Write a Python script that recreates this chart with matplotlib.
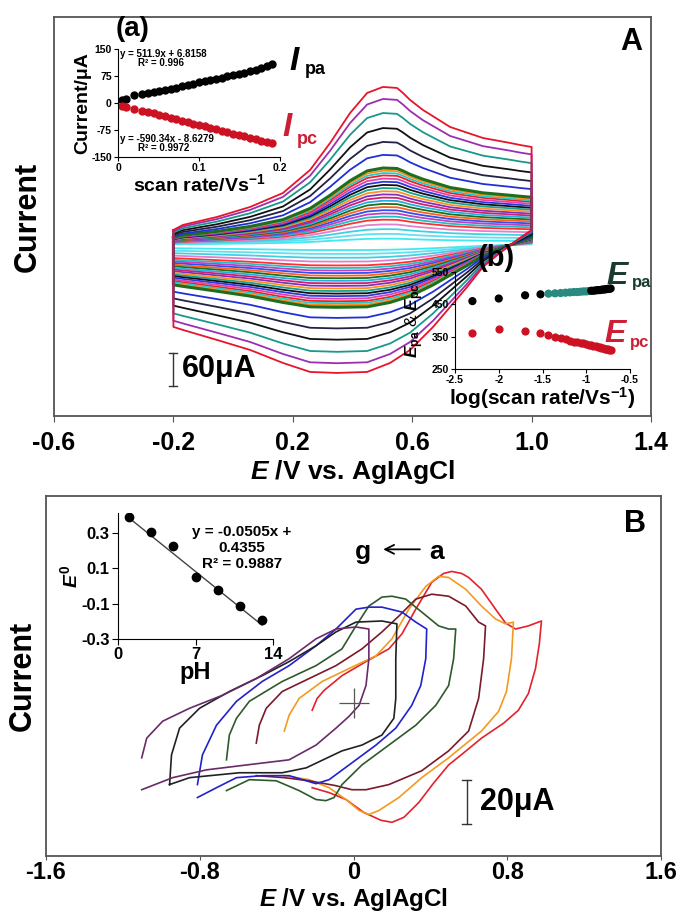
import numpy as np
import matplotlib
matplotlib.use('Agg')
import matplotlib.pyplot as plt

plt.rcParams['font.family'] = ['Liberation Sans', 'DejaVu Sans']
plt.rcParams['font.weight'] = 'bold'
plt.rcParams['mathtext.fontset'] = 'custom'
plt.rcParams['mathtext.rm'] = 'Liberation Sans:bold'
plt.rcParams['mathtext.it'] = 'Liberation Sans:italic:bold'
plt.rcParams['mathtext.bf'] = 'Liberation Sans:bold'
plt.rcParams['axes.unicode_minus'] = False

# ---------------- Panel A data ----------------
# outermost CV (fastest scan) anodic (forward) branch: potential (V) and current (uA)
cvA_fwd_E = [-0.2, -0.168, -0.054, 0.057, 0.167, 0.258, 0.325, 0.392, 0.449, 0.502,
             0.549, 0.569, 0.593, 0.636, 0.727, 0.837, 0.928, 0.961, 1.0]
cvA_fwd_I = [27.3, 36.4, 50.9, 69.1, 94.5, 136.4, 185.5, 240.0, 276.4, 287.3,
             285.5, 276.4, 263.6, 245.5, 214.5, 194.5, 185.5, 181.8, 178.2]
# cathodic (reverse) branch
cvA_rev_E = [1.0, 0.951, 0.894, 0.837, 0.784, 0.727, 0.670, 0.593, 0.526, 0.449,
             0.348, 0.258, 0.167, 0.057, -0.054, -0.168, -0.2]
cvA_rev_I = [27.3, 9.1, -14.5, -40.0, -76.4, -112.7, -149.0, -190.9, -214.5, -230.9,
             -232.7, -230.9, -214.5, -190.9, -172.7, -154.5, -149.0]
# relative size of each CV (outer -> inner)
cvA_scale = [1.0, 0.924, 0.835, 0.74, 0.652, 0.57, 0.487, 0.47, 0.455, 0.44, 0.42,
             0.40, 0.38, 0.36, 0.34, 0.32, 0.30, 0.28, 0.26, 0.24, 0.22, 0.20, 0.18,
             0.16, 0.13, 0.10, 0.07, 0.04]
cvA_colors = ['#e8142c', '#9c2fb0', '#17998a', '#111111', '#222244', '#2030d8',
              '#1d6e1d', '#ff8c1a', '#22c8d0', '#ee2222', '#e040b0', '#2a3ae0',
              '#111111', '#16a090', '#ff9020', '#8030c0', '#d02070', '#22b0e0',
              '#1d6e1d', '#ff6020', '#3050f0', '#c040c0', '#20c0c0', '#ff3030',
              '#e080d0', '#40d0e0', '#60e0f0', '#40e8f0']

# insets (a) and (b)
scan_rate = [0.005, 0.01, 0.02, 0.03, 0.037, 0.044, 0.051, 0.058, 0.065, 0.072,
             0.079, 0.086, 0.093, 0.100, 0.107, 0.114, 0.121, 0.128, 0.135, 0.142,
             0.149, 0.156, 0.163, 0.170, 0.177, 0.184, 0.19]
Ipa = [8, 11, 21, 24, 27, 30, 33, 37, 40, 43, 47, 50, 53, 57, 60, 63, 67, 70, 74,
       77, 80, 84, 88, 92, 97, 102, 108]
Ipc = [-9, -12, -17, -22, -25, -29, -33, -37, -41, -45, -49, -53, -57, -61, -65,
       -69, -73, -77, -81, -85, -89, -93, -97, -101, -105, -108, -112]
Epa = [460, 468, 478, 481, 483, 484, 485, 486, 487, 488, 488, 489, 490, 490, 491,
       492, 492, 493, 494, 494, 495, 496, 496, 497, 498, 498, 499]
Epc = [361, 373, 369, 361, 355, 350, 346, 342, 338, 335, 333, 331, 329, 327, 325,
       323, 322, 320, 318, 317, 316, 314, 313, 312, 311, 310, 309]

# ---------------- Panel B data ----------------
cvB_labels = ['a', 'b', 'c', 'd', 'e', 'f', 'g']
cvB_colors = ['#e3222b', '#f39a1e', '#7a1a2a', '#2d5a2d', '#2222cc', '#222222', '#6a2a6a']
cvB_fwd_E = [
    [-0.215, -0.189, -0.153, -0.060, 0.065, 0.184, 0.252, 0.324, 0.407, 0.469, 0.511,
     0.563, 0.599, 0.666, 0.739, 0.791, 0.843, 0.910, 0.978],
    [-0.360, -0.335, -0.283, -0.163, -0.023, 0.117, 0.200, 0.288, 0.376, 0.443, 0.495,
     0.584, 0.666, 0.739, 0.791, 0.832],
    [-0.506, -0.490, -0.454, -0.371, -0.231, -0.091, 0.044, 0.148, 0.236, 0.324, 0.407,
     0.495, 0.584, 0.651, 0.687],
    [-0.661, -0.646, -0.609, -0.542, -0.371, -0.195, -0.060, 0.013, 0.080, 0.148, 0.200,
     0.272, 0.355, 0.443, 0.495, 0.532],
    [-0.812, -0.786, -0.713, -0.609, -0.475, -0.335, -0.195, -0.091, 0.013, 0.080, 0.148,
     0.252, 0.324, 0.381],
    [-0.957, -0.947, -0.905, -0.801, -0.646, -0.475, -0.335, -0.195, -0.091, 0.013, 0.148,
     0.226],
    [-1.102, -1.076, -0.993, -0.853, -0.682, -0.506, -0.335, -0.195, -0.091, 0.013, 0.080],
]
cvB_fwd_I = [
    [-3.1, 2.2, 5.8, 12.4, 18.7, 24.4, 31.1, 42.2, 54.2, 58.2, 59.1, 58.2, 56.4, 51.1,
     42.2, 36.0, 33.3, 34.7, 36.9],
    [-12.4, -5.3, 2.2, 9.8, 15.6, 21.3, 28.9, 42.2, 52.4, 56.9, 56.4, 51.1, 43.6, 37.8,
     35.6, 36.4],
    [-17.8, -9.8, -2.2, 5.3, 11.1, 16.9, 24.4, 32.0, 39.1, 46.7, 48.9, 48.0, 43.6, 36.4,
     34.7],
    [-25.3, -14.2, -6.7, 0.9, 9.8, 16.9, 24.4, 34.7, 43.6, 47.6, 48.0, 46.7, 40.9, 34.7,
     33.3, 33.3],
    [-36.4, -23.1, -9.8, 0.9, 9.8, 16.9, 25.8, 33.3, 42.2, 43.1, 43.1, 40.9, 36.4, 33.3],
    [-36.4, -23.1, -11.1, -2.2, 5.3, 12.4, 18.7, 25.8, 32.0, 36.4, 36.9, 35.6],
    [-24.4, -15.6, -8.0, -2.2, 3.6, 11.1, 20.0, 28.9, 33.3, 34.2, 33.3],
]
cvB_rev_E = [
    [0.967, 0.947, 0.910, 0.858, 0.781, 0.666, 0.573, 0.495, 0.418, 0.340, 0.262, 0.200,
     0.143, 0.054, -0.039, -0.127, -0.215],
    [0.822, 0.796, 0.755, 0.666, 0.495, 0.355, 0.236, 0.132, 0.080, 0.029, -0.039,
     -0.127, -0.231, -0.360],
    [0.677, 0.651, 0.599, 0.495, 0.355, 0.184, 0.065, -0.008, -0.091, -0.231, -0.360,
     -0.506],
    [0.521, 0.495, 0.428, 0.324, 0.184, 0.044, -0.060, -0.101, -0.143, -0.195, -0.283,
     -0.402, -0.542, -0.661],
    [0.376, 0.350, 0.303, 0.220, 0.117, -0.023, -0.127, -0.195, -0.335, -0.475, -0.609,
     -0.713, -0.812],
    [0.220, 0.220, 0.210, 0.148, 0.044, -0.060, -0.246, -0.371, -0.594, -0.853, -0.957],
    [0.080, 0.065, 0.029, -0.023, -0.091, -0.195, -0.335, -0.594, -0.765, -0.941, -1.102],
]
cvB_rev_I = [
    [26.7, 15.6, 4.4, -3.1, -8.9, -15.6, -22.2, -27.6, -35.6, -44.4, -51.1, -53.3, -52.4,
     -48.9, -43.1, -40.0, -37.8],
    [20.0, 5.3, -3.6, -12.4, -24.4, -33.3, -42.2, -48.0, -49.8, -48.0, -43.1, -37.8,
     -34.2, -32.4],
    [20.0, 2.2, -12.4, -21.3, -30.2, -36.4, -38.7, -38.7, -36.9, -34.7, -33.3, -32.4],
    [20.0, 8.0, -0.9, -9.8, -18.7, -27.6, -36.4, -42.2, -43.6, -43.1, -39.1, -34.7,
     -34.2, -39.1],
    [20.0, 8.0, -0.9, -11.1, -18.7, -27.6, -34.2, -36.0, -32.4, -32.4, -33.3, -37.8,
     -42.2],
    [20.0, 2.2, -6.7, -14.2, -18.7, -21.3, -28.9, -31.1, -31.1, -33.3, -36.4],
    [20.0, 8.0, -0.9, -5.8, -11.1, -18.7, -25.3, -28.0, -29.8, -33.3, -38.7],
]
pH = [1, 3, 5, 7, 9, 11, 13]
E0 = [0.39, 0.305, 0.226, 0.05, -0.023, -0.113, -0.192]
fit_slope, fit_icpt = -0.0505, 0.4355

# ---------------- figure ----------------
W, H = 686, 913
fig = plt.figure(figsize=(W / 100, H / 100), dpi=100)


def fbox(x0, y0, x1, y1):
    return [x0 / W, 1 - y1 / H, (x1 - x0) / W, (y1 - y0) / H]


def ftext(x, y, s, **kw):
    fig.text(x / W, 1 - y / H, s, **kw)


spine_c = '#555555'
red_lbl = '#cc1f36'

# ---- Panel A ----
axA = fig.add_axes(fbox(54, 17, 651, 416))
axA.set_xlim(-0.6, 1.4)
axA.set_ylim(-311, 414.5)
for s, c in reversed(list(zip(cvA_scale, cvA_colors))):
    E = cvA_fwd_E + cvA_rev_E + [cvA_fwd_E[0]]
    I = np.array(cvA_fwd_I + cvA_rev_I + [cvA_fwd_I[0]]) * s
    axA.plot(E, I, color=c, lw=1.3 if s != 0.487 else 2.2, solid_joinstyle='round')
axA.set_xticks([-0.6, -0.2, 0.2, 0.6, 1.0, 1.4])
axA.set_xticklabels(['-0.6', '-0.2', '0.2', '0.6', '1.0', '1.4'])
axA.set_yticks([])
axA.tick_params(axis='x', direction='out', length=4, labelsize=18, pad=7, color=spine_c)
for sp in axA.spines.values():
    sp.set_color(spine_c)
    sp.set_linewidth(1.3)
axA.set_xlabel(r'$E$ /V vs. AgIAgCl', fontsize=19, fontweight='bold')
axA.xaxis.set_label_coords(0.5, -0.106)
axA.set_ylabel('Current', fontsize=22, fontweight='bold', labelpad=8)
# 60 uA scale bar
axA.plot([-0.201, -0.201], [-196, -256], color='#333333', lw=1.0)
axA.plot([-0.215, -0.187], [-196, -196], color='#333333', lw=1.0)
axA.plot([-0.215, -0.187], [-256, -256], color='#333333', lw=1.0)
axA.text(-0.17, -226, '60\u03bcA', fontsize=22, fontweight='bold', va='center', ha='left')
axA.text(0.985, 0.975, 'A', transform=axA.transAxes, fontsize=22, fontweight='bold',
         ha='right', va='top')

# ---- inset (a) ----
axa = fig.add_axes(fbox(118, 49, 280, 157))
axa.plot(scan_rate, Ipa, 'o', color='black', ms=5)
axa.plot(scan_rate, Ipc, 'o', color='#cc1122', ms=5)
axa.set_xlim(0, 0.2)
axa.set_ylim(-150, 150)
axa.set_xticks([0, 0.1, 0.2])
axa.set_xticklabels(['0', '0.1', '0.2'])
axa.set_yticks([150, 75, 0, -75, -150])
axa.tick_params(labelsize=7.5, length=3, pad=1.5)
axa.spines['top'].set_visible(False)
axa.spines['right'].set_visible(False)
axa.patch.set_alpha(0)
axa.set_xlabel(r'scan rate/Vs$^{-1}$', fontsize=14, fontweight='bold', labelpad=0)
axa.set_ylabel('Current/\u03bcA', fontsize=14, fontweight='bold', labelpad=0)
axa.text(0.002, 135, 'y = 511.9x + 6.8158', fontsize=7, fontweight='bold', va='center')
axa.text(0.025, 110, 'R\u00b2 = 0.996', fontsize=7, fontweight='bold', va='center')
axa.text(0.002, -100, 'y = -590.34x - 8.6279', fontsize=7, fontweight='bold', va='center')
axa.text(0.025, -125, 'R\u00b2 = 0.9972', fontsize=7, fontweight='bold', va='center')
ftext(116, 29, '(a)', fontsize=20, fontweight='bold', va='center')
ftext(289, 62, r'$I$', fontsize=24, va='center')
ftext(305, 70, 'pa', fontsize=13, fontweight='bold', va='center')
ftext(282, 128, r'$I$', fontsize=24, va='center', color=red_lbl)
ftext(297, 139, 'pc', fontsize=13, fontweight='bold', va='center', color=red_lbl)

# ---- inset (b) ----
axb = fig.add_axes(fbox(455, 272, 630, 369))
lr = np.log10(scan_rate)
epa_col = ['black'] * 4 + ['#2a8a80'] * 11 + ['black'] * 12
axb.scatter(lr, Epa, s=24, c=epa_col, zorder=3)
axb.scatter(lr, Epc, s=24, c='#cc1122', zorder=3)
axb.set_xlim(-2.5, -0.5)
axb.set_ylim(250, 550)
axb.set_xticks([-2.5, -2, -1.5, -1, -0.5])
axb.set_xticklabels(['-2.5', '-2', '-1.5', '-1', '-0.5'])
axb.set_yticks([250, 350, 450, 550])
axb.tick_params(labelsize=7.5, length=3, pad=1.5)
axb.spines['top'].set_visible(False)
axb.spines['right'].set_visible(False)
axb.patch.set_alpha(0)
axb.set_xlabel(r'log(scan rate/Vs$^{-1}$)', fontsize=15, fontweight='bold', labelpad=0)
axb.set_ylabel(r'$E_{\mathrm{pa}}$ & $E_{\mathrm{pc}}$', fontsize=12.5, labelpad=4)
ftext(477, 258, '(b)', fontsize=21, fontweight='bold', va='center')
ftext(606, 276, r'$E$', fontsize=23, va='center', color='#1a3a30')
ftext(632, 283, 'pa', fontsize=12, fontweight='bold', va='center', color='#1a3a30')
ftext(604, 334, r'$E$', fontsize=23, va='center', color=red_lbl)
ftext(630, 342, 'pc', fontsize=12, fontweight='bold', va='center', color=red_lbl)

# ---- Panel B ----
axB = fig.add_axes(fbox(46, 496, 661, 856))
axB.set_xlim(-1.6, 1.6)
axB.set_ylim(-68.4, 92.9)
for k in range(len(cvB_labels)):
    E = cvB_fwd_E[k] + cvB_rev_E[k]
    I = cvB_fwd_I[k] + cvB_rev_I[k]
    axB.plot(E, I, color=cvB_colors[k], lw=1.2, solid_joinstyle='round')
axB.plot([0], [0], marker='+', ms=22, mew=0.9, color='#555555')
axB.set_xticks([-1.6, -0.8, 0, 0.8, 1.6])
axB.set_xticklabels(['-1.6', '-0.8', '0', '0.8', '1.6'])
axB.set_yticks([])
axB.tick_params(axis='x', direction='out', length=3, labelsize=17, pad=0.5, color=spine_c)
for sp in axB.spines.values():
    sp.set_color(spine_c)
    sp.set_linewidth(1.3)
axB.set_xlabel(r'$E$ /V vs. AgIAgCl', fontsize=17.5, fontweight='bold')
axB.xaxis.set_label_coords(0.5, -0.083)
axB.set_ylabel('Current', fontsize=22, fontweight='bold', labelpad=6)
axB.text(0.975, 0.965, 'B', transform=axB.transAxes, fontsize=22, fontweight='bold',
         ha='right', va='top')
# 20 uA scale bar
axB.plot([0.589, 0.589], [-34.2, -54.2], color='#333333', lw=1.0)
axB.plot([0.565, 0.613], [-34.2, -34.2], color='#333333', lw=1.0)
axB.plot([0.565, 0.613], [-54.2, -54.2], color='#333333', lw=1.0)
axB.text(0.66, -44, '20\u03bcA', fontsize=22, fontweight='bold', va='center', ha='left')
# g <- a
axB.text(0.05, 68, 'g', fontsize=19, fontweight='bold', va='center', ha='center')
axB.text(0.43, 68, 'a', fontsize=19, fontweight='bold', va='center', ha='center')
axB.annotate('', xy=(0.14, 69), xytext=(0.36, 69),
             arrowprops=dict(arrowstyle='->', color='black', lw=1.3, mutation_scale=16))

# ---- inset pH ----
axp = fig.add_axes(fbox(118, 513, 273, 639))
axp.plot([pH[0], pH[-1]], [fit_slope * pH[0] + fit_icpt, fit_slope * pH[-1] + fit_icpt],
         color='#444444', lw=1.0)
axp.plot(pH, E0, 'o', color='black', ms=6)
axp.set_xlim(0, 14)
axp.set_ylim(-0.3, 0.413)
axp.set_xticks([0, 7, 14])
axp.set_yticks([0.3, 0.1, -0.1, -0.3])
axp.set_yticklabels(['0.3', '0.1', '-0.1', '-0.3'])
axp.tick_params(labelsize=12, length=4, pad=2)
axp.spines['top'].set_visible(False)
axp.spines['right'].set_visible(False)
axp.patch.set_alpha(0)
axp.set_xlabel('pH', fontsize=17, fontweight='bold', labelpad=-1)
axp.set_ylabel(r'$E^{0}$', fontsize=14, labelpad=0)
ftext(242, 548, 'y = -0.0505x +\n0.4355\nR\u00b2 = 0.9887', fontsize=11,
      fontweight='bold', ha='center', va='center', linespacing=1.15)

fig.savefig('out.png', dpi=100)
